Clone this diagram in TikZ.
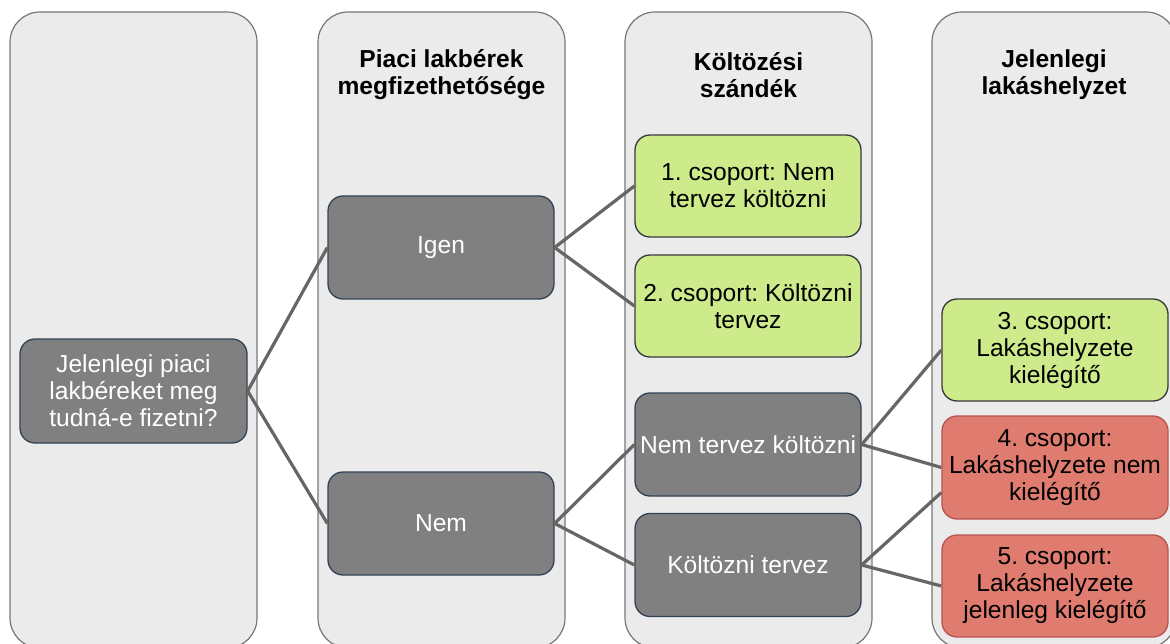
\documentclass[tikz,border=0pt]{standalone}
\usepackage{fontspec}
\setmainfont{Liberation Sans}
\frenchspacing
\definecolor{colfill}{HTML}{EBEBEB}
\definecolor{colline}{HTML}{777777}
\definecolor{darkfill}{HTML}{808080}
\definecolor{darkline}{HTML}{314354}
\definecolor{greenfill}{HTML}{CDEB8B}
\definecolor{greenline}{HTML}{36393D}
\definecolor{redfill}{HTML}{E07B70}
\definecolor{redline}{HTML}{B85450}
\definecolor{connline}{HTML}{666666}
\begin{document}
\begin{tikzpicture}[x=1pt,y=-1pt,
  colbg/.style={draw=colline,fill=colfill,rounded corners=30pt,line width=1.2pt},
  hdr/.style={align=center,font=\bfseries\fontsize{24.6}{27}\selectfont,inner sep=0pt},
  box/.style={rounded corners=15pt,minimum width=226pt,minimum height=103pt,align=center,
    font=\fontsize{24.6}{27}\selectfont,line width=1.3pt,inner sep=0pt},
  darkbox/.style={box,draw=darkline,fill=darkfill,text=white},
  greenbox/.style={box,draw=greenline,fill=greenfill,text=black},
  redbox/.style={box,draw=redline,fill=redfill,text=black},
  conn/.style={draw=connline,line width=3.2pt}]
\useasboundingbox (0,0) rectangle (1170,644);
\clip (0,0) rectangle (1170,644);
\fill[white] (0,0) rectangle (1170,644);
% columns
\draw[colbg] (10,12) rectangle (257,648);
\draw[colbg] (318,12) rectangle (565,648);
\draw[colbg] (625,12) rectangle (872,648);
\draw[colbg] (932,12) rectangle (1176,648);
% headers
\node[hdr] (h2) at (441.5,75) {Piaci lakbérek\\megfizethetősége};
\node[hdr] (h3) at (748.5,75) {Költözési\\szándék};
\node[hdr] (h4) at (1054,75) {Jelenlegi\\lakáshelyzet};
% nodes
\node[darkbox,minimum width=227pt,minimum height=104pt] (Q) at (133.5,391) {Jelenlegi piaci\\lakbéreket meg\\tudná-e fizetni?};
\node[darkbox] (Igen) at (441,247.5) {Igen};
\node[darkbox] (Nem) at (441,523.5) {Nem};
\node[greenbox,minimum height=102pt] (G1) at (748,186) {1. csoport: Nem\\tervez költözni};
\node[greenbox,minimum height=102pt] (G2) at (748,306) {2. csoport: Költözni\\tervez};
\node[darkbox] (NT) at (748,444.5) {Nem tervez költözni};
\node[darkbox] (KT) at (748,565) {Költözni tervez};
\node[greenbox,minimum height=102pt] (G3) at (1055,350) {3. csoport:\\Lakáshelyzete\\kielégítő};
\node[redbox] (G4) at (1055,467.5) {4. csoport:\\Lakáshelyzete nem\\kielégítő};
\node[redbox,minimum height=102pt] (G5) at (1055,586) {5. csoport:\\Lakáshelyzete\\jelenleg kielégítő};
% edges
\draw[conn] (Q.east) -- (Igen.west);
\draw[conn] (Q.east) -- (Nem.west);
\draw[conn] (Igen.east) -- (G1.west);
\draw[conn] (Igen.east) -- (G2.west);
\draw[conn] (Nem.east) -- (NT.west);
\draw[conn] (Nem.east) -- (KT.west);
\draw[conn] (NT.east) -- (G3.west);
\draw[conn] (NT.east) -- (G4.west);
\draw[conn] (KT.east) -- ([yshift=-25pt]G4.west);
\draw[conn] (KT.east) -- (G5.west);
\end{tikzpicture}
\end{document}
